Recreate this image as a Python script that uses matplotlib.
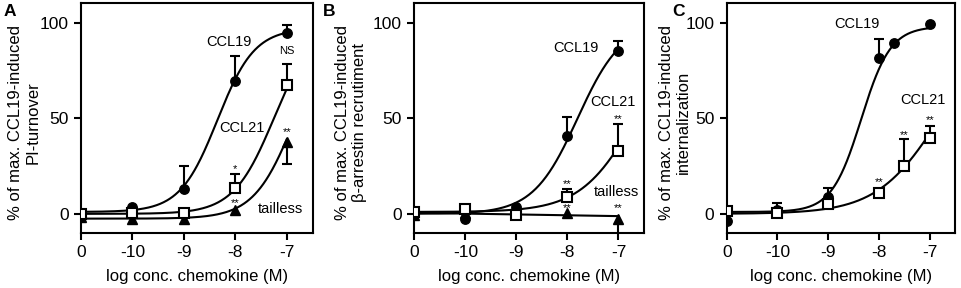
import numpy as np
import matplotlib
matplotlib.use('Agg')
import matplotlib.pyplot as plt

plt.rcParams['font.family'] = ['Liberation Sans', 'DejaVu Sans']

# x positions: the control ("0") is drawn at -11 on the log axis
tick_pos = [-11, -10, -9, -8, -7]
tick_labels = ['0', '-10', '-9', '-8', '-7']

# ---- panel A: PI-turnover
a_x = [-11, -10, -9, -8, -7]
a_ccl19 = [0.7, 3.8, 12.9, 69.3, 94.4]
a_ccl19_up = [0, 0, 12.3, 13.0, 4.4]
a_ccl21 = [0.0, 0.3, 0.5, 13.7, 67.2]
a_ccl21_up = [0, 0, 0, 7.3, 11.1]
a_tail = [-1.9, -2.6, -2.6, 2.2, 37.7]
a_tail_dn = [0, 0, 0, 0, 11.8]

# ---- panel B: beta-arrestin recruitment
b_x = [-11, -10, -9, -8, -7]
b_ccl19 = [1.5, -2.6, 3.8, 40.8, 85.1]
b_ccl19_up = [0, 0, 0, 10.0, 5.2]
b_ccl21 = [0.9, 2.3, -0.4, 9.0, 33.0]
b_ccl21_up = [0, 0, 0, 3.9, 13.9]
b_tail = [-0.5, 0.5, 0.8, 0.3, -2.6]
b_tail_dn = [0, 0, 0, 0, 9.0]

# ---- panel C: internalization
c19_x = [-11, -10, -9, -8, -7.7, -7]
c_ccl19 = [-3.5, 2.1, 9.0, 81.6, 89.2, 99.3]
c_ccl19_up = [0, 3.5, 4.4, 9.9, 0, 0]
c21_x = [-11, -10, -9, -8, -7.5, -7]
c_ccl21 = [1.7, 0.3, 5.2, 11.1, 25.0, 39.4]
c_ccl21_up = [0, 0, 0, 0, 13.9, 6.6]

# fitted sigmoid parameters (bottom, top, logEC50, hill)
fit_a19 = (1, 97, -8.35, 1.2)
fit_a21 = (0, 100, -7.25, 1.1)
fit_atl = (-2.5, 100, -6.85, 1.1)
fit_b19 = (0, 100, -7.8, 1.0)
fit_b21 = (1, 100, -6.65, 0.8)
fit_c19 = (1, 98, -8.35, 1.5)
fit_c21 = (0, 100, -6.8, 0.7)


def sigmoid(x, p):
    bot, top, ec, h = p
    return bot + (top - bot) / (1 + 10 ** (h * (ec - x)))


xx = np.linspace(-11, -7, 300)

fig = plt.figure(figsize=(9.61, 2.88), dpi=100)
bottom = 0.191
height = 0.797
axA = fig.add_axes([0.0843, bottom, 0.2409, height])
axB = fig.add_axes([0.4311, bottom, 0.2390, height])
axC = fig.add_axes([0.7562, bottom, 0.2376, height])

lw = 1.5
ms = dict(circle=dict(marker='o', ms=6.8, mfc='black', mec='black'),
          square=dict(marker='s', ms=7, mfc='white', mec='black', mew=1.5),
          tri=dict(marker='^', ms=6.5, mfc='black', mec='black'))


def points(ax, x, y, lo, up, kind):
    x = np.asarray(x, float)
    y = np.asarray(y, float)
    lo = np.asarray(lo, float)
    up = np.asarray(up, float)
    for err, sign in ((up, 1), (lo, -1)):
        k = err > 0
        if k.any():
            end = y[k] + sign * err[k]
            ax.vlines(x[k], y[k], end, color='black', lw=lw, zorder=3)
            ax.plot(x[k], end, ls='none', marker='_', ms=7, mew=lw,
                    color='black', zorder=3)
    ax.plot(x, y, ls='none', zorder=4, **ms[kind])


def style(ax, ylabel, letter, lx):
    ax.set_xlim(-11, -6.5)
    ax.set_ylim(-10, 110)
    ax.set_xticks(tick_pos)
    ax.set_xticklabels(tick_labels)
    ax.set_yticks([0, 50, 100])
    for s in ax.spines.values():
        s.set_linewidth(lw)
    ax.tick_params(axis='both', direction='out', length=5, width=lw,
                   labelsize=12.5, pad=4)
    ax.set_xlabel('log conc. chemokine (M)', fontsize=12, labelpad=6)
    ax.set_ylabel(ylabel, fontsize=12, linespacing=1.2)
    ax.yaxis.set_label_coords(lx, 0.48)
    fig.text(letter[1], 0.985, letter[0], fontsize=12.5, fontweight='bold',
             va='top', ha='left')


# panel A
axA.plot(xx, sigmoid(xx, fit_a19), color='black', lw=lw, zorder=2)
axA.plot(xx, sigmoid(xx, fit_a21), color='black', lw=lw, zorder=2)
axA.plot(xx, sigmoid(xx, fit_atl), color='black', lw=lw, zorder=2)
points(axA, a_x, a_ccl19, [0] * 5, a_ccl19_up, 'circle')
points(axA, a_x, a_tail, a_tail_dn, [0] * 5, 'tri')
points(axA, a_x, a_ccl21, [0] * 5, a_ccl21_up, 'square')
axA.text(-8.12, 89.7, 'CCL19', fontsize=10.5, ha='center', va='center')
axA.text(-7.87, 44.8, 'CCL21', fontsize=10.5, ha='center', va='center')
axA.text(-7.12, 2.6, 'tailless', fontsize=10.5, ha='center', va='center')
axA.text(-7.0, 84.9, 'NS', fontsize=8, ha='center', va='center')
axA.text(-8.0, 23.5, '*', fontsize=8, ha='center', va='center')
axA.text(-8.0, 5.5, '**', fontsize=8, ha='center', va='center')
axA.text(-7.0, 42.8, '**', fontsize=8, ha='center', va='center')
style(axA, '% of max. CCL19-induced\nPI-turnover', ('A', 0.004), -0.175)

# panel B
tail_fit = np.polyfit(b_x, b_tail, 1)
axB.plot(xx, sigmoid(xx, fit_b19), color='black', lw=lw, zorder=2)
axB.plot(xx, sigmoid(xx, fit_b21), color='black', lw=lw, zorder=2)
axB.plot(xx, np.polyval(tail_fit, xx), color='black', lw=lw, zorder=2)
points(axB, b_x, b_ccl19, [0] * 5, b_ccl19_up, 'circle')
points(axB, b_x, b_tail, b_tail_dn, [0] * 5, 'tri')
points(axB, b_x, b_ccl21, [0] * 5, b_ccl21_up, 'square')
axB.text(-7.83, 86.6, 'CCL19', fontsize=10.5, ha='center', va='center')
axB.text(-7.1, 58.6, 'CCL21', fontsize=10.5, ha='center', va='center')
axB.text(-7.05, 11.2, 'tailless', fontsize=10.5, ha='center', va='center')
axB.text(-7.0, 49.8, '**', fontsize=8, ha='center', va='center')
axB.text(-8.0, 15.8, '**', fontsize=8, ha='center', va='center')
axB.text(-8.0, 2.8, '**', fontsize=8, ha='center', va='center')
axB.text(-7.0, 2.8, '**', fontsize=8, ha='center', va='center')
style(axB, '% of max. CCL19-induced\n\u03b2-arrestin recrutiment', ('B', 0.336), -0.205)

# panel C
axC.plot(xx, sigmoid(xx, fit_c19), color='black', lw=lw, zorder=2)
axC.plot(xx, sigmoid(xx, fit_c21), color='black', lw=lw, zorder=2)
points(axC, c19_x, c_ccl19, [0] * 6, c_ccl19_up, 'circle')
points(axC, c21_x, c_ccl21, [0] * 6, c_ccl21_up, 'square')
axC.text(-8.44, 99.3, 'CCL19', fontsize=10.5, ha='center', va='center')
axC.text(-7.14, 59.4, 'CCL21', fontsize=10.5, ha='center', va='center')
axC.text(-7.0, 49.0, '**', fontsize=8, ha='center', va='center')
axC.text(-7.5, 41.3, '**', fontsize=8, ha='center', va='center')
axC.text(-8.0, 16.7, '**', fontsize=8, ha='center', va='center')
style(axC, '% of max. CCL19-induced\ninternalization', ('C', 0.700), -0.155)

fig.savefig('out.png', dpi=100)
